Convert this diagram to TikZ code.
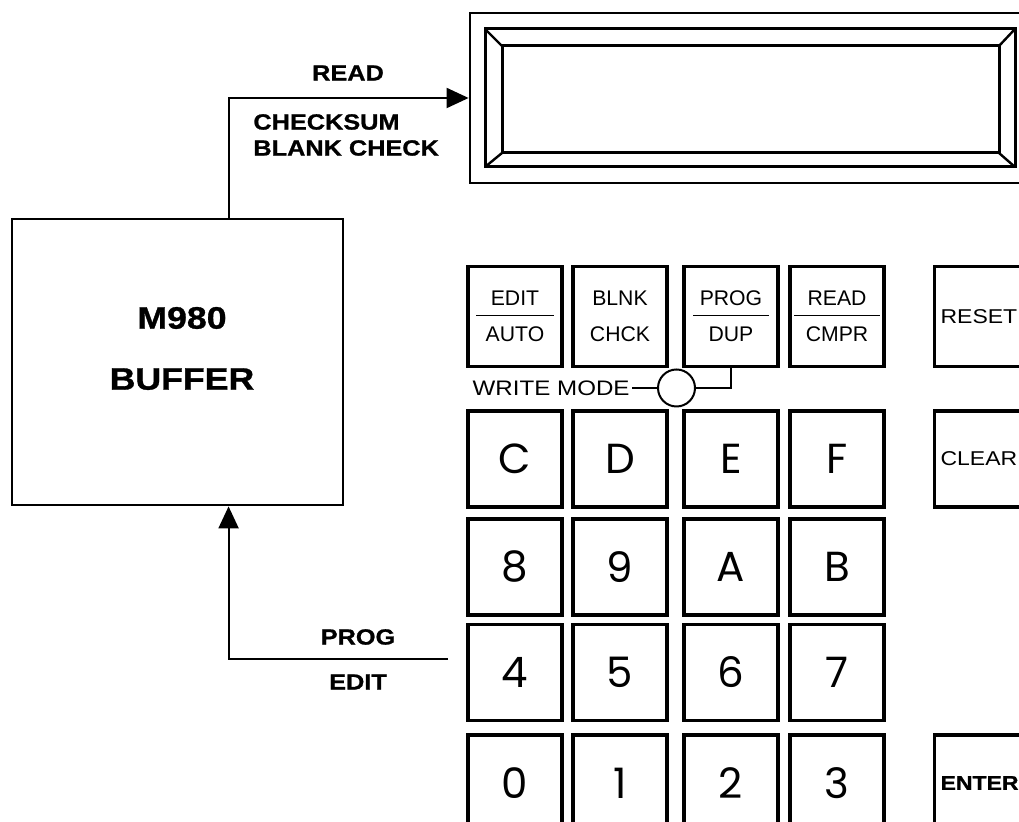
\documentclass[tikz,border=0pt]{standalone}
\usepackage{fontspec}
\setmainfont{Liberation Sans}
\newfontfamily\widesans[FakeStretch=1.15, BoldFeatures={FakeBold=1}]{Liberation Sans}
\newfontfamily\keyfont{Poppins}
\usetikzlibrary{arrows.meta, calc, positioning}

\begin{document}
\begin{tikzpicture}[
    x=0.5pt, y=-0.5pt,
    block/.style={draw, line width=1.4pt, minimum width=165.5pt, minimum height=143pt, inner sep=0pt},
    keybox/.style={draw, line width=1.6pt, minimum width=47pt, minimum height=48pt, inner sep=0pt},
    hexkey/.style={keybox, font=\keyfont\fontsize{21}{21}\selectfont},
    fnkey/.style={keybox, minimum height=50pt, align=center, font=\fontsize{10.6}{18}\selectfont},
    sidekey/.style={keybox, anchor=west, text width=47pt, inner xsep=3pt, align=left, font=\widesans\fontsize{10}{12}\selectfont},
    lbl/.style={inner sep=0pt, font=\widesans\bfseries\fontsize{11}{13}\selectfont},
    arrow/.style={-{Triangle[length=11pt, width=10pt]}, line width=1pt},
    fracline/.style={line width=0.9pt}
]
\useasboundingbox (0,0) rectangle (1019,822);
\clip (0,0) rectangle (1019,822);

% Buffer
\node[block] (buffer) at (177.5,362) {};
\node[align=center, font=\widesans\bfseries\fontsize{15.5}{30.5}\selectfont] (buflabel) at (182,348.5) {M980\\BUFFER};

% Display
\node[draw, line width=1.4pt, minimum width=285pt, minimum height=85pt, inner sep=0pt] (disp) at (755,98) {};
\draw[line width=1.5pt] (485,29) rectangle (1015,167);
\draw[line width=1.5pt] (502,46) rectangle (999,153);
\draw[line width=1.2pt] (485,29) -- (502,46) (1015,29) -- (999,46)
    (485,167) -- (502,153) (1015,167) -- (999,153);

% Function keys
\node[fnkey] (edit) at (515,316.5) {EDIT\\AUTO};
\node[fnkey] (blnk) at (620,316.5) {BLNK\\CHCK};
\node[fnkey] (prog) at (731,316.5) {PROG\\DUP};
\node[fnkey] (read) at (837,316.5) {READ\\CMPR};
\draw[fracline] ($(edit.center)+(-39,-1)$) -- ++(78,0);
\draw[fracline] ($(prog.center)+(-38,-1)$) -- ++(76,0);
\draw[fracline] ($(read.center)+(-43,-1)$) -- ++(86,0);

% Hex keys
\foreach \lab/\x/\y in {C/515/459, D/620/459, E/731/459, F/837/459,
                        8/515/567, 9/620/567, A/731/567, B/837/567,
                        4/515/672.5, 5/620/672.5, 6/731/672.5, 7/837/672.5,
                        0/515/783, 1/620/783, 2/731/783, 3/837/783} {
    \node[hexkey] (key\lab) at (\x,\y) {\lab};
}

% Side keys
\node[sidekey, minimum height=50pt] (reset) at (933,316.5) {RESET};
\node[sidekey] (clear) at (933,459) {CLEAR};
\node[sidekey, font=\widesans\bfseries\fontsize{10}{12}\selectfont] (enter) at (933,783) {ENTER};

% Write mode lamp
\node[anchor=east, inner sep=0pt, font=\widesans\fontsize{10.5}{12}\selectfont] (wmlabel) at (630,388) {WRITE MODE};
\node[circle, draw, line width=1pt, minimum size=18.5pt, inner sep=0pt] (wm) at (676.5,388) {};
\draw[line width=0.9pt] ([xshift=1pt]wmlabel.east) -- (wm.west);
\draw[line width=0.9pt] (wm.east) -| (prog.south);

% Read path
\draw[arrow] ($(buffer.north west)!0.653!(buffer.north east)$) |- (disp.west);
\node[lbl] (readlbl) at (348,73) {READ};
\node[lbl, anchor=west, align=left] (cklbl) at (253,135) {CHECKSUM\\BLANK CHECK};

% Prog path
\coordinate (progin) at (448,659);
\draw[arrow] (progin) -| ($(buffer.south west)!0.653!(buffer.south east)$);
\node[lbl] (proglbl) at (358,637) {PROG};
\node[lbl] (editlbl) at (358,682) {EDIT};

\end{tikzpicture}
\end{document}
